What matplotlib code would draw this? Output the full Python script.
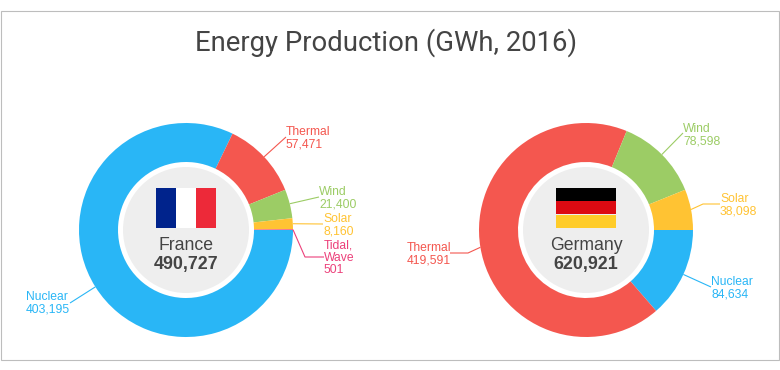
import numpy as np
import matplotlib.pyplot as plt
from matplotlib.patches import Circle, Rectangle

plt.rcParams['font.family'] = ['Liberation Sans', 'DejaVu Sans']

# values
france_names = ['Nuclear', 'Thermal', 'Wind', 'Solar', 'Tidal,\nWave']
france_values = [403195, 57471, 21400, 8160, 501]
germany_names = ['Nuclear', 'Thermal', 'Wind', 'Solar']
germany_values = [84634, 419591, 78598, 38098]

# colours
colors = {'Nuclear': '#29b6f6', 'Thermal': '#f4574f', 'Wind': '#9ccc65',
          'Solar': '#ffc333', 'Tidal,\nWave': '#ec407a'}

H = 370
R = 107


# everything is placed in pixels, y measured from the top
def py(y):
    return H - y


# leader line: elbow points after the slice edge, then the text position
france_leaders = {
    'Nuclear': ([(70, 303)], (26, 303.5)),
    'Thermal': ([(286, 137)], (286, 138)),
    'Wind': ([(319, 197)], (319, 198)),
    'Solar': ([(323, 224)], (323, 225)),
    'Tidal,\nWave': ([(305, 257), (324, 257)], (324, 258)),
}
germany_leaders = {
    'Nuclear': ([(711, 287)], (711, 288)),
    'Thermal': ([(468, 253), (450, 253)], (407, 254)),
    'Wind': ([(683, 133)], (683, 135)),
    'Solar': ([(703, 204), (720, 204)], (720, 205)),
}


def donut(ax, cx, cy, names, values, leaders, country):
    wedges, _ = ax.pie(values, colors=[colors[n] for n in names], startangle=0,
                       counterclock=False, radius=R, center=(cx, py(cy)),
                       wedgeprops=dict(width=R - 68, linewidth=0))
    ax.add_patch(Circle((cx, py(cy)), 63, color='#eeeeee', lw=0))

    for w, name, val in zip(wedges, names, values):
        mid = np.radians((w.theta1 + w.theta2) / 2)
        start = (cx + R * np.cos(mid), cy - R * np.sin(mid))
        elbows, pos = leaders[name]
        pts = [start] + elbows
        ax.plot([p[0] for p in pts], [py(p[1]) for p in pts],
                color=colors[name], lw=0.8, solid_capstyle='butt')
        ax.text(pos[0], py(pos[1]), name + '\n' + f'{val:,}', color=colors[name],
                fontsize=8.7, ha='left', va='center', linespacing=1.02)

    ax.text(cx, py(246), country, fontsize=12.7, color='#444444', ha='center', va='center')
    ax.text(cx, py(265), f'{sum(values):,}', fontsize=12.9, fontweight='bold',
            color='#444444', ha='center', va='center')


fig = plt.figure(figsize=(7.8, 3.7), dpi=100)
ax = fig.add_axes([0, 0, 1, 1])

donut(ax, 186, 230, france_names, france_values, france_leaders, 'France')
donut(ax, 586, 230, germany_names, germany_values, germany_leaders, 'Germany')

ax.set_xlim(0, 780)
ax.set_ylim(0, H)
ax.set_aspect('equal')
ax.axis('off')

# flags
for x, c in zip([156, 176, 196], ['#00238c', '#ffffff', '#ed2939']):
    ax.add_patch(Rectangle((x, py(228)), 20, 40, color=c, lw=0))
for y, c in zip([188, 201, 215], ['#000000', '#dd0a12', '#ffcc29']):
    ax.add_patch(Rectangle((556, py(y + 13)), 60, 13.5, color=c, lw=0))

# outer frame
ax.add_patch(Rectangle((0.5, py(359.5)), 778.5, 349, fill=False, ec='#bdbdbd', lw=0.8))

ax.text(386, py(43), 'Energy Production (GWh, 2016)', fontsize=19.85, color='#444444',
        ha='center', va='center', family=['Roboto', 'Liberation Sans'])

fig.savefig('out.png', dpi=100)
